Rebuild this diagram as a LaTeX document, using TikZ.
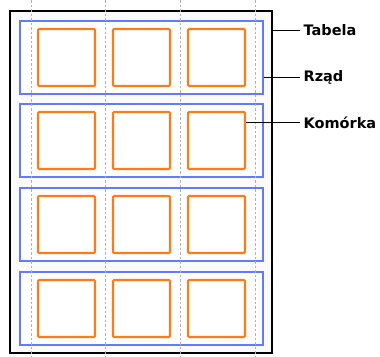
\documentclass[tikz,border=0pt]{standalone}
\usepackage{fontspec}
\setmainfont{DejaVu Sans}
\usepackage{tikz}

\definecolor{rowblue}{RGB}{98,122,255}
\definecolor{cellorange}{RGB}{255,122,24}

\tikzset{
	guide/.style={draw=black!30, line width=0.9pt, dash pattern=on 2.5pt off 2pt},
	tablebox/.style={draw=black, line width=2.2pt, fill=black!2, minimum width=262pt, minimum height=342pt, inner sep=0pt},
	rowbox/.style={draw=rowblue, line width=2pt, fill=white, minimum width=243pt, minimum height=73pt, inner sep=0pt},
	cellbox/.style={draw=cellorange, line width=2.1pt, rounded corners=1pt, fill=white, minimum width=57pt, minimum height=57pt, inner sep=0pt},
	callout/.style={anchor=west, inner sep=3pt, font=\bfseries\fontsize{14.5}{16}\selectfont},
}

\begin{document}
\begin{tikzpicture}[x=1pt, y=-1pt, line width=1.2pt]

	\useasboundingbox (0,0) rectangle (380,356);

	% table and rows
	\node (table) at (141,182) [tablebox] {};
	\node (row1) at (141.5, 57.5) [rowbox] {};
	\node (row2) at (141.5,140.5) [rowbox] {};
	\node (row3) at (141.5,224.5) [rowbox] {};
	\node (row4) at (141.5,308.5) [rowbox] {};

	% column guides
	\draw[guide] ( 31,0) -- ( 31,356);
	\draw[guide] (105,0) -- (105,356);
	\draw[guide] (180,0) -- (180,356);
	\draw[guide] (255,0) -- (255,356);

	% cells
	\node (cell11) at ( 66.5, 57.5) [cellbox] {};
	\node (cell12) at (141.5, 57.5) [cellbox] {};
	\node (cell13) at (216.5, 57.5) [cellbox] {};

	\node (cell21) at ( 66.5,140.5) [cellbox] {};
	\node (cell22) at (141.5,140.5) [cellbox] {};
	\node (cell23) at (216.5,140.5) [cellbox] {};

	\node (cell31) at ( 66.5,224.5) [cellbox] {};
	\node (cell32) at (141.5,224.5) [cellbox] {};
	\node (cell33) at (216.5,224.5) [cellbox] {};

	\node (cell41) at ( 66.5,308.5) [cellbox] {};
	\node (cell42) at (141.5,308.5) [cellbox] {};
	\node (cell43) at (216.5,308.5) [cellbox] {};

	% labels
	\node (tabela)  at (300, 30.5) [callout] {Tabela};
	\node (rzad)    at (300, 77.5) [callout] {Rząd};
	\node (komorka) at (300,122.5) [callout] {Komórka};

	\draw (tabela.west)  -- (tabela.west -| table.east);
	\draw (rzad.west)    -- (rzad.west -| row1.east);
	\draw (komorka.west) -- (komorka.west -| cell23.east);

\end{tikzpicture}
\end{document}
